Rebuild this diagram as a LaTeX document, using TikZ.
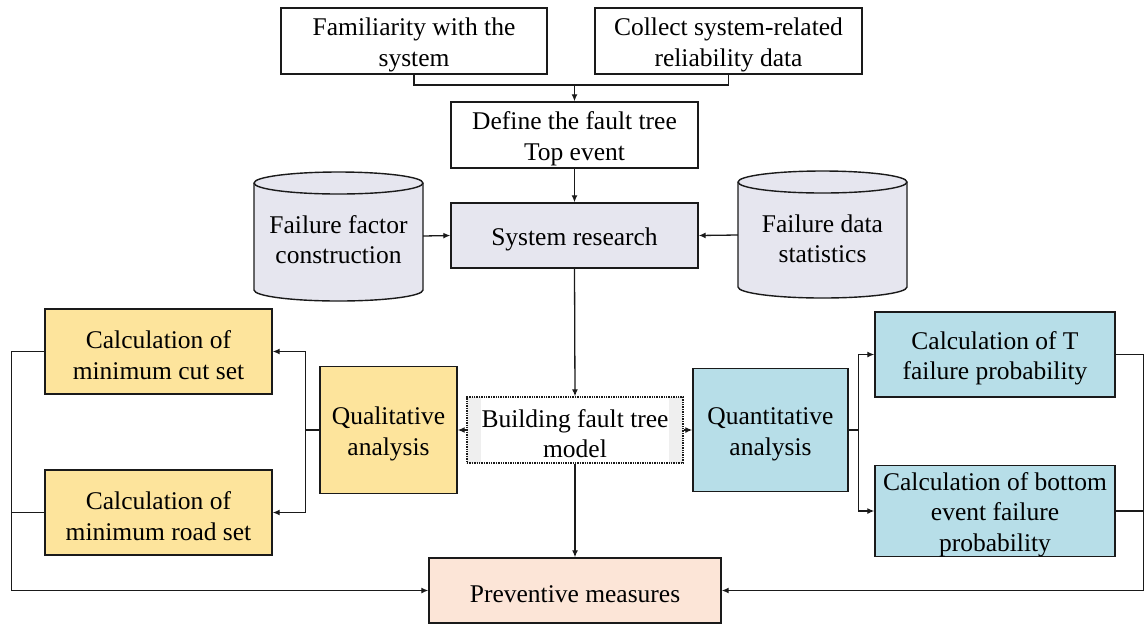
\documentclass[tikz,border=0pt]{standalone}
\usepackage{fontspec}
\setmainfont{Liberation Serif}
\usetikzlibrary{arrows.meta}
\definecolor{linecol}{HTML}{1A1A1A}
\definecolor{sysfill}{HTML}{E6E6EF}
\definecolor{yelfill}{HTML}{FDE49C}
\definecolor{bluefill}{HTML}{B7DEE8}
\definecolor{peachfill}{HTML}{FCE5D7}
\definecolor{modelfill}{HTML}{EFEFEF}
% taller first line so the text block sits a little low in its box
\newcommand{\firstline}{\rule{0pt}{25pt}}
\tikzset{
  txt/.style={font=\fontsize{25.5}{30.5}\selectfont, align=center, text=black},
  box/.style={txt, draw=linecol, line width=1.4pt, inner sep=0pt},
  plainbox/.style={box, fill=white},
  sysbox/.style={box, fill=sysfill},
  yelbox/.style={box, fill=yelfill},
  bluebox/.style={box, fill=bluefill},
  prevbox/.style={box, fill=peachfill},
  modelbox/.style={box, densely dotted, fill=modelfill,
    path picture={\fill[white] ([xshift=14pt]path picture bounding box.south west)
      rectangle ([xshift=-14pt]path picture bounding box.north east);}},
  cylfill/.style={fill=sysfill, draw=linecol, line width=1.4pt},
  link/.style={draw=linecol, line width=1.3pt},
  arr/.style={link, -{Latex[length=7pt,width=6pt]}},
}
\begin{document}
\begin{tikzpicture}[x=1pt, y=-1pt]
\useasboundingbox (0,0) rectangle (1148,625);

% top inputs and problem definition
\node[plainbox, minimum width=266pt, minimum height=66pt] (fam) at (414,41) {\firstline Familiarity with the\\system};
\node[plainbox, minimum width=267pt, minimum height=66pt] (col) at (728.5,41) {\firstline Collect system-related\\reliability data};
\node[plainbox, minimum width=247pt, minimum height=66pt] (def) at (574.5,135) {\firstline Define the fault tree\\Top event};
\node[sysbox, minimum width=247pt, minimum height=65pt] (sys) at (574.5,235.5) {\firstline System research};

% data sources drawn as cylinders
\filldraw[cylfill] (254,183) -- (254,290) arc[start angle=180, end angle=360, x radius=84.5pt, y radius=11pt]
  -- (423,183) arc[start angle=0, end angle=180, x radius=84.5pt, y radius=11pt] -- cycle;
\draw[link, line width=1.4pt] (254,183) arc[start angle=180, end angle=360, x radius=84.5pt, y radius=11pt];
\node[txt, minimum width=169pt, minimum height=110pt, inner sep=0pt] (lcyl) at (338.5,236) {\firstline Failure factor\\construction};

\filldraw[cylfill] (738,182) -- (738,287) arc[start angle=180, end angle=360, x radius=84.5pt, y radius=11pt]
  -- (907,182) arc[start angle=0, end angle=180, x radius=84.5pt, y radius=11pt] -- cycle;
\draw[link, line width=1.4pt] (738,182) arc[start angle=180, end angle=360, x radius=84.5pt, y radius=11pt];
\node[txt, minimum width=169pt, minimum height=110pt, inner sep=0pt] (rcyl) at (822.5,235) {\firstline Failure data\\statistics};

% model and analyses
\node[modelbox, minimum width=216pt, minimum height=66pt] (bld) at (575,430) {\firstline Building fault tree\\model};
\node[yelbox, minimum width=137pt, minimum height=127pt] (qual) at (388.5,430) {\firstline Qualitative\\analysis};
\node[bluebox, minimum width=155pt, minimum height=123pt] (quan) at (770.5,430) {\firstline Quantitative\\analysis};
\node[yelbox, minimum width=227pt, minimum height=85pt] (cut) at (158.5,351.5) {\firstline Calculation of\\minimum cut set};
\node[yelbox, minimum width=227pt, minimum height=85pt] (road) at (158.5,512.5) {\firstline Calculation of\\minimum road set};
\node[bluebox, minimum width=240pt, minimum height=85pt] (calT) at (995,354.5) {\firstline Calculation of T\\failure probability};
\node[bluebox, minimum width=240pt, minimum height=84pt] (calB) at (995,511) {\firstline Calculation of bottom\\event failure\\probability};
\node[prevbox, minimum width=292pt, minimum height=65pt] (prev) at (575,590.5) {\firstline Preventive measures};

% connectors
\coordinate (join) at (574.5,85);
\draw[link] (fam.south) |- (join) -| (col.south);
\draw[arr] (join) -- (def.north);
\draw[arr] (def.south) -- (sys.north);
\draw[arr] (lcyl.east) -- (sys.west);
\draw[arr] (rcyl.west) -- (sys.east);
\draw[arr] (sys.south) -- (bld.north);
\draw[arr] (bld.west) -- (qual.east);
\draw[arr] (bld.east) -- (quan.west);
\draw[arr] (bld.south) -- (prev.north);

\draw[arr] (qual.west) -- ++(-14,0) |- (cut.east);
\draw[arr] (qual.west) -- ++(-14,0) |- (road.east);
\draw[arr] (quan.east) -- ++(9.5,0) |- (calT.west);
\draw[arr] (quan.east) -- ++(9.5,0) |- (calB.west);

\draw[arr] (cut.west) -- ++(-33,0) |- (prev.west);
\draw[link] (road.west) -- ++(-33,0);
\draw[arr] (calT.east) -- ++(28,0) |- (prev.east);
\draw[link] (calB.east) -- ++(28,0);
\end{tikzpicture}
\end{document}
